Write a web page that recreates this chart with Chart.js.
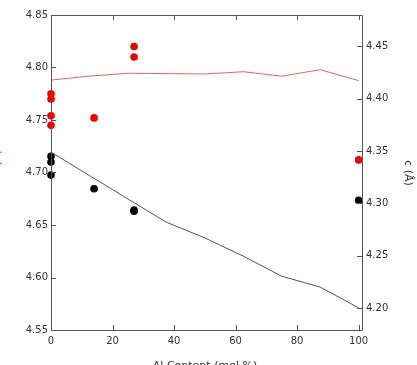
<!DOCTYPE html>
<html>
<head>
<meta charset="utf-8">
<script src="https://cdn.jsdelivr.net/npm/chart.js@4/dist/chart.umd.min.js"></script>
<style>
html,body{margin:0;padding:0;background:#fff;}
#wrap{width:417px;height:365px;position:relative;}
</style>
</head>
<body>
<div id="wrap"><canvas id="c" width="417" height="365"></canvas></div>
<script>
// Data
const redX = [0, 0, 0, 0, 14, 27, 27, 100];
const redA = [4.775, 4.770, 4.754, 4.745, 4.752, 4.820, 4.810, 4.712];
const blackX = [0, 0, 0, 14, 27, 27, 100];
const blackC = [4.345, 4.3395, 4.327, 4.314, 4.2935, 4.2925, 4.303];
const fitX = [0, 12.5, 25, 37.5, 50, 62.5, 75, 87.5, 100];
const fitA = [4.788, 4.7918, 4.7945, 4.7942, 4.7938, 4.796, 4.7917, 4.7979, 4.7875];
const fitC = [4.349, 4.3266, 4.3042, 4.282, 4.267, 4.2496, 4.2304, 4.22, 4.2002];
const xTicks = [0, 20, 40, 60, 80, 100];
const leftTicks = [4.55, 4.60, 4.65, 4.70, 4.75, 4.80, 4.85];
const rightTicks = [4.20, 4.25, 4.30, 4.35, 4.40, 4.45];
const xTitle = 'Al Content (mol %)';
const leftTitle = 'a (Å)';
const rightTitle = 'c (Å)';

const pts = (xs, ys) => xs.map((x, i) => ({x: x, y: ys[i]}));
const FONT = '"DejaVu Sans", Verdana, sans-serif';
const AXIS = '#555555';

const framePlugin = {
  id: 'frame',
  afterDraw(chart) {
    const ctx = chart.ctx;
    const a = chart.chartArea;
    const xs = chart.scales.x, yl = chart.scales.y, yr = chart.scales.y1;
    ctx.save();
    ctx.strokeStyle = AXIS;
    ctx.lineWidth = 1;
    ctx.beginPath();
    ctx.rect(Math.round(a.left) + 0.5, Math.round(a.top) + 0.5,
             Math.round(a.right - a.left), Math.round(a.bottom - a.top));
    ctx.stroke();
    const L = 5;
    ctx.beginPath();
    xTicks.forEach(v => {
      const px = Math.round(xs.getPixelForValue(v)) + 0.5;
      ctx.moveTo(px, a.bottom); ctx.lineTo(px, a.bottom - L);
      ctx.moveTo(px, a.top); ctx.lineTo(px, a.top + L);
    });
    leftTicks.forEach(v => {
      const py = Math.round(yl.getPixelForValue(v)) + 0.5;
      ctx.moveTo(a.left, py); ctx.lineTo(a.left + L, py);
    });
    rightTicks.forEach(v => {
      const py = Math.round(yr.getPixelForValue(v)) + 0.5;
      ctx.moveTo(a.right, py); ctx.lineTo(a.right - L, py);
    });
    ctx.stroke();
    // axis titles
    ctx.font = '11px ' + FONT;
    ctx.fillStyle = '#333333';
    ctx.textAlign = 'center';
    ctx.textBaseline = 'alphabetic';
    ctx.fillText(xTitle, 205, 369);
    ctx.save();
    ctx.translate(0, 163);
    ctx.rotate(-Math.PI / 2);
    ctx.fillStyle = '#e03030';
    ctx.fillText(leftTitle, 0, 0);
    ctx.restore();
    ctx.save();
    ctx.translate(405, 173);
    ctx.rotate(Math.PI / 2);
    ctx.fillStyle = '#333333';
    ctx.fillText(rightTitle, 0, 0);
    ctx.restore();
    ctx.restore();
  }
};

new Chart(document.getElementById('c'), {
  type: 'scatter',
  data: {
    datasets: [
      {data: pts(fitX, fitA), yAxisID: 'y', showLine: true, borderColor: '#d66a6a', borderWidth: 1,
       pointRadius: 0, fill: false, tension: 0, clip: false},
      {data: pts(fitX, fitC), yAxisID: 'y1', showLine: true, borderColor: '#555555', borderWidth: 1,
       pointRadius: 0, fill: false, tension: 0, clip: false},
      {data: pts(redX, redA), yAxisID: 'y', backgroundColor: '#ee0000', borderColor: '#ee0000',
       pointRadius: 3.8, borderWidth: 0, clip: false},
      {data: pts(blackX, blackC), yAxisID: 'y1', backgroundColor: '#000000', borderColor: '#000000',
       pointRadius: 3.8, borderWidth: 0, clip: false}
    ]
  },
  options: {
    responsive: false,
    animation: false,
    devicePixelRatio: 1,
    layout: {padding: {top: 15, left: 0, right: 0, bottom: 0}},
    plugins: {legend: {display: false}, tooltip: {enabled: false}},
    scales: {
      x: {
        type: 'linear', min: 0, max: 101.1,
        afterBuildTicks: s => { s.ticks = xTicks.map(v => ({value: v})); },
        afterFit: s => { s.height = 35; },
        grid: {display: false, drawTicks: false},
        border: {display: false},
        ticks: {color: '#333333', font: {family: FONT, size: 10}, padding: 5,
                maxRotation: 0, autoSkip: false, callback: v => String(v)}
      },
      y: {
        type: 'linear', position: 'left', min: 4.55, max: 4.85,
        afterBuildTicks: s => { s.ticks = leftTicks.map(v => ({value: v})); },
        afterFit: s => { s.width = 51; },
        grid: {display: false, drawTicks: false},
        border: {display: false},
        ticks: {color: '#333333', font: {family: FONT, size: 10}, padding: 3,
                autoSkip: false, callback: v => Number(v).toFixed(2)}
      },
      y1: {
        type: 'linear', position: 'right', min: 4.179, max: 4.48,
        afterBuildTicks: s => { s.ticks = rightTicks.map(v => ({value: v})); },
        afterFit: s => { s.width = 55; },
        grid: {display: false, drawTicks: false},
        border: {display: false},
        ticks: {color: '#333333', font: {family: FONT, size: 10}, padding: 4,
                autoSkip: false, callback: v => Number(v).toFixed(2)}
      }
    }
  },
  plugins: [framePlugin]
});
</script>
</body>
</html>
